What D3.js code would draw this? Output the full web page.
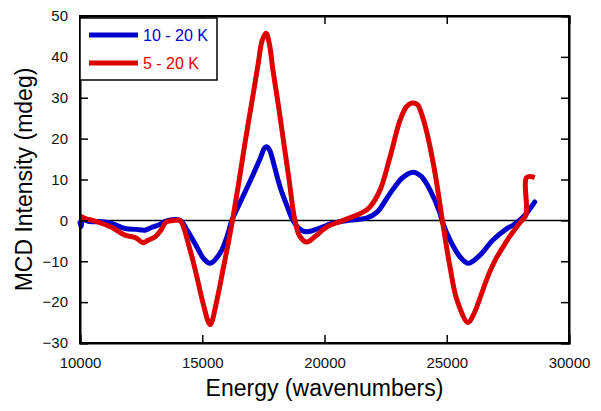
<!DOCTYPE html>
<html>
<head>
<meta charset="utf-8">
<script src="https://cdn.jsdelivr.net/npm/d3@7"></script>
<style>
  body { margin: 0; background: #fff; }
  text { font-family: "Liberation Sans", Arial, sans-serif; }
</style>
</head>
<body>
<svg id="chart" width="601" height="411"></svg>
<script>
// series: energy (cm-1) and MCD (mdeg)
let blueX = [10000, 10050, 10100, 10400, 10800, 11270, 11840, 12300, 12660, 12900, 13190, 13600, 14100, 14380, 14780, 15050, 15320, 15730, 16010, 16210, 16550, 16950, 17360, 17550, 17640, 17750, 17850, 18180, 18450, 18710, 19000, 19280, 19600, 20100, 20350, 21000, 21740, 22150, 22680, 23200, 23620, 23950, 24320, 24720, 24800, 25130, 25540, 25870, 26360, 26890, 27460, 27710, 28120, 28400, 28600];
let blueY = [-0.5, -1.5, 0.2, -0.3, -0.3, -0.7, -2, -2.2, -2.4, -1.8, -1.2, 0, 0, -2.4, -6.5, -9.3, -10.5, -8, -4, 0, 4.4, 9.5, 15, 17.7, 18, 17.3, 15.5, 8.2, 3.8, 0, -2.2, -2.8, -2.3, -1.2, -0.7, 0, 0.6, 2, 6.6, 10.5, 11.8, 10.8, 7.4, 1.8, 0, -4.8, -8.9, -10.5, -8.5, -4.8, -2, -1.2, 0.8, 2.8, 4.5];

let redX = [10000, 10200, 10740, 11270, 11840, 12290, 12580, 12800, 13070, 13310, 13520, 13900, 14090, 14500, 14780, 15030, 15320, 15600, 15850, 16050, 16250, 16500, 16750, 17030, 17280, 17450, 17610, 17750, 17890, 18100, 18300, 18550, 18790, 19000, 19280, 19600, 20100, 20760, 21580, 21860, 22270, 22680, 23090, 23350, 23580, 23800, 24000, 24190, 24520, 24800, 25130, 25420, 25870, 26100, 26360, 26600, 26800, 27050, 27300, 27590, 28000, 28240, 28270, 28600];
let redY = [1, 0.5, -0.4, -1.6, -3.6, -4.3, -5.5, -4.8, -4, -2.4, -0.4, 0, 0, -7.2, -13.8, -20.2, -25.5, -19.5, -12, -6, 0.5, 9.5, 19, 29, 38, 44, 45.8, 43, 36.8, 28.7, 20.4, 10, 0, -4, -5.3, -4, -1.6, 0, 2, 3.3, 7.4, 15.5, 24.5, 27.8, 28.7, 28.3, 25.5, 21.4, 11.6, 0.8, -11.3, -19.5, -25, -23, -19, -15, -12, -9, -6.5, -3.8, -0.5, 1.3, 10.5, 10.5];

let xTicks = [10000, 15000, 20000, 25000, 30000];
let yTicks = [-30, -20, -10, 0, 10, 20, 30, 40, 50];
let seriesNames = ["10 - 20 K", "5 - 20 K"];
let seriesColors = ["#0000cc", "#dd0000"];

const margin = { left: 80, top: 16, right: 32, bottom: 68 };
const width = 601, height = 411;

let svg = d3.select("#chart");

let x = d3.scaleLinear().domain([10000, 30000]).range([margin.left, width - margin.right]);
let y = d3.scaleLinear().domain([-30, 50]).range([height - margin.bottom, margin.top]);

// zero line
svg.append("line")
  .attr("x1", x(10000)).attr("x2", x(30000))
  .attr("y1", y(0)).attr("y2", y(0))
  .attr("stroke", "#000").attr("stroke-width", 1.5);

let line = d3.line()
  .x(d => x(d[0]))
  .y(d => y(d[1]))
  .curve(d3.curveCatmullRom.alpha(0.5));

let blue = blueX.map((v, i) => [v, blueY[i]]);
let red = redX.map((v, i) => [v, redY[i]]);

svg.append("path").datum(blue)
  .attr("d", line).attr("fill", "none")
  .attr("stroke", seriesColors[0]).attr("stroke-width", 5)
  .attr("stroke-linejoin", "round").attr("stroke-linecap", "round");

svg.append("path").datum(red)
  .attr("d", line).attr("fill", "none")
  .attr("stroke", seriesColors[1]).attr("stroke-width", 5)
  .attr("stroke-linejoin", "round").attr("stroke-linecap", "butt");

// axes, ticks pointing inward
const tk = 8;
let axBottom = svg.append("g")
  .attr("transform", `translate(0,${y(-30)})`)
  .call(d3.axisBottom(x).tickValues(xTicks).tickFormat(d3.format("d")).tickSize(-tk).tickPadding(14));
let axTop = svg.append("g")
  .attr("transform", `translate(0,${y(50)})`)
  .call(d3.axisTop(x).tickValues(xTicks).tickFormat("").tickSize(-tk));
let axLeft = svg.append("g")
  .attr("transform", `translate(${x(10000)},0)`)
  .call(d3.axisLeft(y).tickValues(yTicks).tickSize(-tk).tickPadding(12));
let axRight = svg.append("g")
  .attr("transform", `translate(${x(30000)},0)`)
  .call(d3.axisRight(y).tickValues(yTicks).tickFormat("").tickSize(-tk));

[axBottom, axTop, axLeft, axRight].forEach(g => {
  g.select(".domain").attr("stroke", "#000").attr("stroke-width", 2);
  g.selectAll(".tick line").attr("stroke", "#000").attr("stroke-width", 1.5);
  g.selectAll(".tick text").attr("font-size", 15).attr("fill", "#111")
    .attr("font-family", "Liberation Sans, Arial, sans-serif");
});

// frame
svg.append("rect")
  .attr("x", x(10000)).attr("y", y(50))
  .attr("width", x(30000) - x(10000)).attr("height", y(-30) - y(50))
  .attr("fill", "none").attr("stroke", "#000").attr("stroke-width", 2);

// legend
let legend = svg.append("g");
legend.append("rect")
  .attr("x", 80).attr("y", 18).attr("width", 137).attr("height", 62)
  .attr("fill", "#fff").attr("stroke", "#000").attr("stroke-width", 1.5);
seriesNames.forEach((name, i) => {
  let ly = 35 + i * 28;
  legend.append("line")
    .attr("x1", 89).attr("x2", 138).attr("y1", ly).attr("y2", ly)
    .attr("stroke", seriesColors[i]).attr("stroke-width", 5);
  legend.append("text")
    .attr("x", 143).attr("y", ly).attr("dy", "0.35em")
    .attr("font-size", 16).attr("fill", seriesColors[i])
    .text(name);
});

// axis titles
svg.append("text")
  .attr("x", x(20000)).attr("y", 396)
  .attr("text-anchor", "middle").attr("font-size", 23)
  .text("Energy (wavenumbers)");

svg.append("text")
  .attr("transform", `translate(32,${(y(50) + y(-30)) / 2}) rotate(-90)`)
  .attr("text-anchor", "middle").attr("font-size", 23)
  .text("MCD Intensity (mdeg)");
</script>
</body>
</html>
